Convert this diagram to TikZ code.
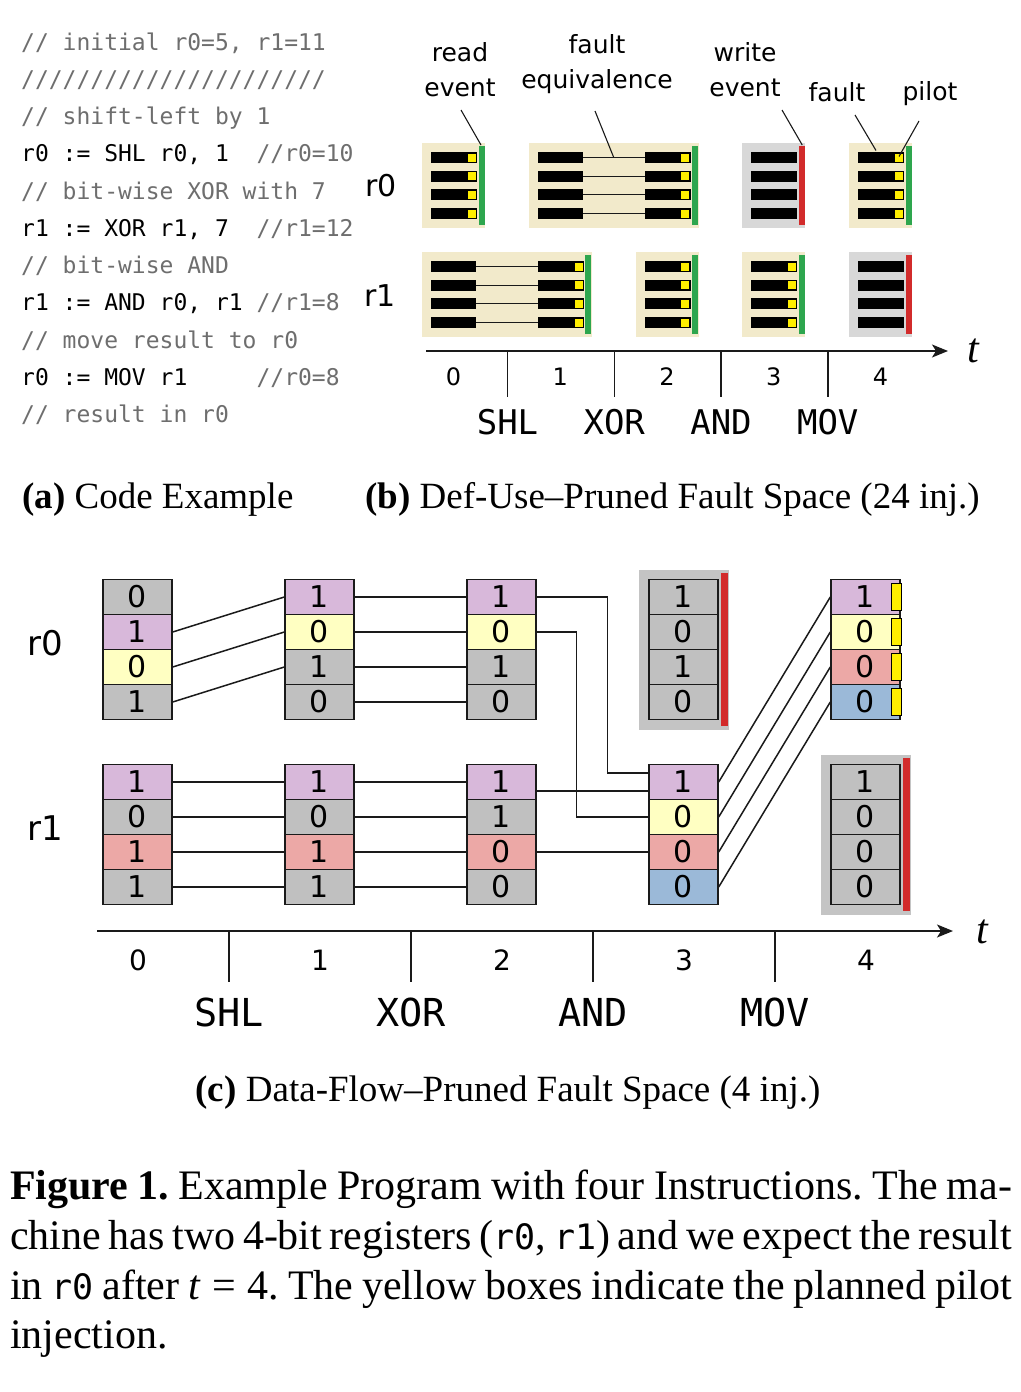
\documentclass[tikz,border=0pt]{standalone}
\usepackage{fontspec}
\setmainfont{Liberation Serif}
\setmonofont{DejaVu Sans Mono}
\newfontfamily\sansf{DejaVu Sans}
\usetikzlibrary{arrows.meta,calc}
\definecolor{codegray}{HTML}{6E6E6E}
\definecolor{tanbg}{HTML}{F2EACB}
\definecolor{greybg}{HTML}{D8D8D8}
\definecolor{evgreen}{HTML}{2EA64E}
\definecolor{evred}{HTML}{D22B2B}
\definecolor{pilotc}{HTML}{FFEE00}
\definecolor{cgrey}{HTML}{C0C0C0}
\definecolor{cpurple}{HTML}{D8B8DA}
\definecolor{cyellow}{HTML}{FFFFC2}
\definecolor{cpink}{HTML}{ECA8A6}
\definecolor{cblue}{HTML}{9BB9D8}
\definecolor{cbg}{HTML}{C4C4C4}
\definecolor{inkc}{HTML}{1A1A1A}

\newcommand\bsingle[6]{% name, x, y, bg, event colour, pilot(1/0)
  \node[bbox, minimum width=63, fill=#4] (#1) at (#2,#3) {};
  \foreach \i in {0,1,2,3} {
    \fill[barc] ($(#1.north west)+(9,9.5+18.7*\i)$) rectangle ++(46,11);
  }
  \ifnum#6=1
    \foreach \i in {0,1,2,3} {
      \filldraw[pilotsq] ($(#1.north west)+(45,10.5+18.7*\i)$) rectangle ++(9,9);
    }
  \fi
  \fill[#5] ($(#1.north west)+(56.5,3)$) rectangle ++(6,79);
}
\newcommand\bdouble[3]{% name, x, y
  \node[bbox, minimum width=170, fill=tanbg] (#1) at (#2,#3) {};
  \foreach \i in {0,1,2,3} {
    \fill[barc] ($(#1.north west)+(9,9.5+18.7*\i)$) rectangle ++(45,11);
    \fill[barc] ($(#1.north west)+(116,9.5+18.7*\i)$) rectangle ++(46,11);
    \draw[eqline] ($(#1.north west)+(54,15+18.7*\i)$) -- ++(62,0);
    \filldraw[pilotsq] ($(#1.north west)+(152,10.5+18.7*\i)$) rectangle ++(9,9);
  }
  \fill[evgreen] ($(#1.north west)+(163,3)$) rectangle ++(6,79);
}
\newcommand\regc[4]{% prefix, cx, cy of top cell, list colour/value
  \foreach \c/\v [count=\i from 0] in {#4} {
    \node[cell, fill=\c] (#1b\i) at (#2, #3+35*\i) {\v};
  }
}

\begin{document}
\frenchspacing
\begin{tikzpicture}[x=1pt,y=-1pt,
  codeline/.style={anchor=base west, inner sep=0, font=\fontsize{23}{28}\selectfont\ttfamily},
  cmt/.style={text=codegray},
  bbox/.style={anchor=north west, inner sep=0, minimum height=85, draw=none},
  barc/.style={fill=black},
  pilotsq/.style={fill=pilotc, draw=black, line width=0.8},
  eqline/.style={draw=inkc, line width=1.1},
  ann/.style={draw=inkc, line width=1.1},
  blbl/.style={inner sep=0, font=\sansf\fontsize{25}{35}\selectfont, align=center},
  reglbl/.style={inner sep=0, font=\sansf\fontsize{30}{30}\selectfont},
  numb/.style={inner sep=0, font=\sansf\fontsize{24}{24}\selectfont},
  numc/.style={inner sep=0, font=\sansf\fontsize{28}{28}\selectfont},
  instrb/.style={inner sep=0, font=\ttfamily\fontsize{34}{34}\selectfont},
  instrc/.style={inner sep=0, font=\ttfamily\fontsize{38.5}{38.5}\selectfont},
  axisl/.style={draw=inkc, line width=1.5, -{Stealth[length=16pt,width=13pt,inset=4pt]}},
  tick/.style={draw=inkc, line width=1.5},
  tlbl/.style={inner sep=0, font=\fontsize{42}{42}\selectfont\itshape},
  cell/.style={draw=inkc, line width=1.4, minimum width=69, minimum height=35, inner sep=0, font=\sansf\fontsize{30}{30}\selectfont},
  conn/.style={draw=inkc, line width=1.5},
  subcap/.style={inner sep=0, font=\fontsize{37}{37}\selectfont},
  capline/.style={anchor=base west, inner sep=0, font=\fontsize{42}{50}\selectfont}
]
\useasboundingbox (0,0) rectangle (1020,1392);
\fill[white] (0,0) rectangle (1020,1392);

% ---------------- (a) code
\node[codeline,cmt] (code1) at (21,50) {// initial r0=5, r1=11};
\node[codeline,cmt] (code2) at (21,87.25) {//////////////////////};
\node[codeline,cmt] (code3) at (21,124.5) {// shift-left by 1};
\node[codeline] (code4) at (21,161.75) {r0 := SHL r0, 1\ \ \textcolor{codegray}{//r0=10}};
\node[codeline,cmt] (code5) at (21,199) {// bit-wise XOR with 7};
\node[codeline] (code6) at (21,236.25) {r1 := XOR r1, 7\ \ \textcolor{codegray}{//r1=12}};
\node[codeline,cmt] (code7) at (21,273.5) {// bit-wise AND};
\node[codeline] (code8) at (21,310.75) {r1 := AND r0, r1 \textcolor{codegray}{//r1=8}};
\node[codeline,cmt] (code9) at (21,348) {// move result to r0};
\node[codeline] (code10) at (21,385.25) {r0 := MOV r1\ \ \ \ \ \textcolor{codegray}{//r0=8}};
\node[codeline,cmt] (code11) at (21,422.5) {// result in r0};

% ---------------- (b) def-use pruned fault space
\node[reglbl] (br0) at (381,186) {r0};
\node[reglbl] (br1) at (380,296) {r1};

\bsingle{b00}{422}{142.5}{tanbg}{evgreen}{1}
\bdouble{b01}{528.75}{142.5}
\bsingle{b03}{742.25}{142.5}{greybg}{evred}{0}
\bsingle{b04}{849}{142.5}{tanbg}{evgreen}{1}

\bdouble{b10}{422}{251.5}
\bsingle{b12}{635.5}{251.5}{tanbg}{evgreen}{1}
\bsingle{b13}{742.25}{251.5}{tanbg}{evgreen}{1}
\bsingle{b14}{849}{251.5}{greybg}{evred}{0}

\node[blbl] (lread) at (460,70) {read\\event};
\node[blbl] (lfeq) at (597,64) {fault\\equivalence};
\node[blbl] (lwrite) at (745,70) {write\\event};
\node[blbl] (lfault) at (837,92) {fault};
\node[blbl] (lpilot) at (930,94) {pilot};

\coordinate (readA) at (461,110);
\coordinate (feqA) at (595,111);
\coordinate (writeA) at (782,110);
\coordinate (faultA) at (855,115);
\coordinate (pilotA) at (919,121);
\draw[ann] (readA) -- ($(b00.north west)+(59,2.5)$);
\draw[ann] (feqA) -- ($(b01.north west)+(85,15)$);
\draw[ann] (writeA) -- ($(b03.north west)+(60,2.5)$);
\draw[ann] (faultA) -- ($(b04.north west)+(27,8)$);
\draw[ann] (pilotA) -- ($(b04.north west)+(50,14)$);

\coordinate (baxs) at (426,351);
\coordinate (baxe) at (948,351);
\draw[axisl] (baxs) -- (baxe);
\node[tlbl] (bt) at (973,351) {t};
\foreach \x in {507.5,614.25,721,827.75} { \draw[tick] (\x,351) -- (\x,397); }
\foreach \n [count=\k from 0] in {0,1,2,3,4} {
  \node[numb] (bn\n) at (453.5+106.75*\k,377) {\n};
}
\node[instrb] (bshl) at (507.5,422) {SHL};
\node[instrb] (bxor) at (614.25,422) {XOR};
\node[instrb] (band) at (721,422) {AND};
\node[instrb] (bmov) at (827.75,422) {MOV};

% ---------------- subcaptions
\node[subcap, anchor=base west] (capa) at (22,508) {\textbf{(a)} Code Example};
\node[subcap, anchor=base west] (capb) at (365,508) {\textbf{(b)} Def-Use–Pruned Fault Space (24 inj.)};

% ---------------- (c) data-flow pruned fault space
\node[reglbl, font=\sansf\fontsize{34}{34}\selectfont] (cr0) at (45,643) {r0};
\node[reglbl, font=\sansf\fontsize{34}{34}\selectfont] (cr1) at (45,828) {r1};

% grey (written) boxes
\fill[cbg] (639,569.5) rectangle (729,729.5);
\fill[evred] (721,573) rectangle (727.5,725.5);
\fill[cbg] (821,754.5) rectangle (911,914.5);
\fill[evred] (903,758) rectangle (909.5,910.5);

\regc{c0r0}{137.5}{597}{cgrey/0,cpurple/1,cyellow/0,cgrey/1}
\regc{c1r0}{319.5}{597}{cpurple/1,cyellow/0,cgrey/1,cgrey/0}
\regc{c2r0}{501.5}{597}{cpurple/1,cyellow/0,cgrey/1,cgrey/0}
\regc{c3r0}{683.5}{597}{cgrey/1,cgrey/0,cgrey/1,cgrey/0}
\regc{c4r0}{865.5}{597}{cpurple/1,cyellow/0,cpink/0,cblue/0}
\regc{c0r1}{137.5}{782}{cpurple/1,cgrey/0,cpink/1,cgrey/1}
\regc{c1r1}{319.5}{782}{cpurple/1,cgrey/0,cpink/1,cgrey/1}
\regc{c2r1}{501.5}{782}{cpurple/1,cgrey/1,cpink/0,cgrey/0}
\regc{c3r1}{683.5}{782}{cpurple/1,cyellow/0,cpink/0,cblue/0}
\regc{c4r1}{865.5}{782}{cgrey/1,cgrey/0,cgrey/0,cgrey/0}

\foreach \i in {0,1,2,3} {
  \filldraw[pilotsq, line width=1.2] ($(c4r0b\i.north east)+(-9,4.5)$) rectangle ($(c4r0b\i.south east)+(0.7,-4.5)$);
}

% connectors
\draw[conn] (c0r0b1.east) -- (c1r0b0.west);
\draw[conn] (c0r0b2.east) -- (c1r0b1.west);
\draw[conn] (c0r0b3.east) -- (c1r0b2.west);
\foreach \i in {0,1,2,3} {
  \draw[conn] (c1r0b\i.east) -- (c2r0b\i.west);
  \draw[conn] (c0r1b\i.east) -- (c1r1b\i.west);
  \draw[conn] (c1r1b\i.east) -- (c2r1b\i.west);
  \draw[conn] (c3r1b\i.east) -- (c4r0b\i.west);
}
\draw[conn] (c2r0b0.east) -- ++(71,0) |- ($(c3r1b0.north west)!0.25!(c3r1b0.south west)$);
\draw[conn] (c2r0b1.east) -- ++(40,0) |- (c3r1b1.west);
\draw[conn] ($(c2r1b0.north east)!0.75!(c2r1b0.south east)$) -- ($(c3r1b0.north west)!0.75!(c3r1b0.south west)$);
\draw[conn] (c2r1b2.east) -- (c3r1b2.west);

\coordinate (caxs) at (97,931);
\coordinate (caxe) at (953,931);
\draw[axisl] (caxs) -- (caxe);
\node[tlbl] (ct) at (982,932) {t};
\foreach \x in {229,411,593,775} { \draw[tick] (\x,931) -- (\x,982); }
\foreach \n [count=\k from 0] in {0,1,2,3,4} {
  \node[numc] (cn\n) at (138+182*\k,960) {\n};
}
\node[instrc] (cshl) at (229,1012) {SHL};
\node[instrc] (cxor) at (411,1012) {XOR};
\node[instrc] (cand) at (593,1012) {AND};
\node[instrc] (cmov) at (775,1012) {MOV};

\node[subcap, anchor=base] (capc) at (508,1101) {\textbf{(c)} Data-Flow–Pruned Fault Space (4 inj.)};

% ---------------- figure caption
\node[capline] (cap1) at (10,1199) {\makebox[1002pt][s]{\textbf{Figure 1.} Example Program with four Instructions. The ma-}};
\node[capline] (cap2) at (10,1249) {\makebox[1002pt][s]{chine has two 4-bit registers (\texttt{\fontsize{35}{50}\selectfont r0}, \texttt{\fontsize{35}{50}\selectfont r1}) and we expect the result}};
\node[capline] (cap3) at (10,1299) {\makebox[1002pt][s]{in \texttt{\fontsize{35}{50}\selectfont r0} after \textit{t}\hspace{0.28em}=\hspace{0.28em}4. The yellow boxes indicate the planned pilot}};
\node[capline] (cap4) at (10,1348) {injection.};
\end{tikzpicture}
\end{document}
